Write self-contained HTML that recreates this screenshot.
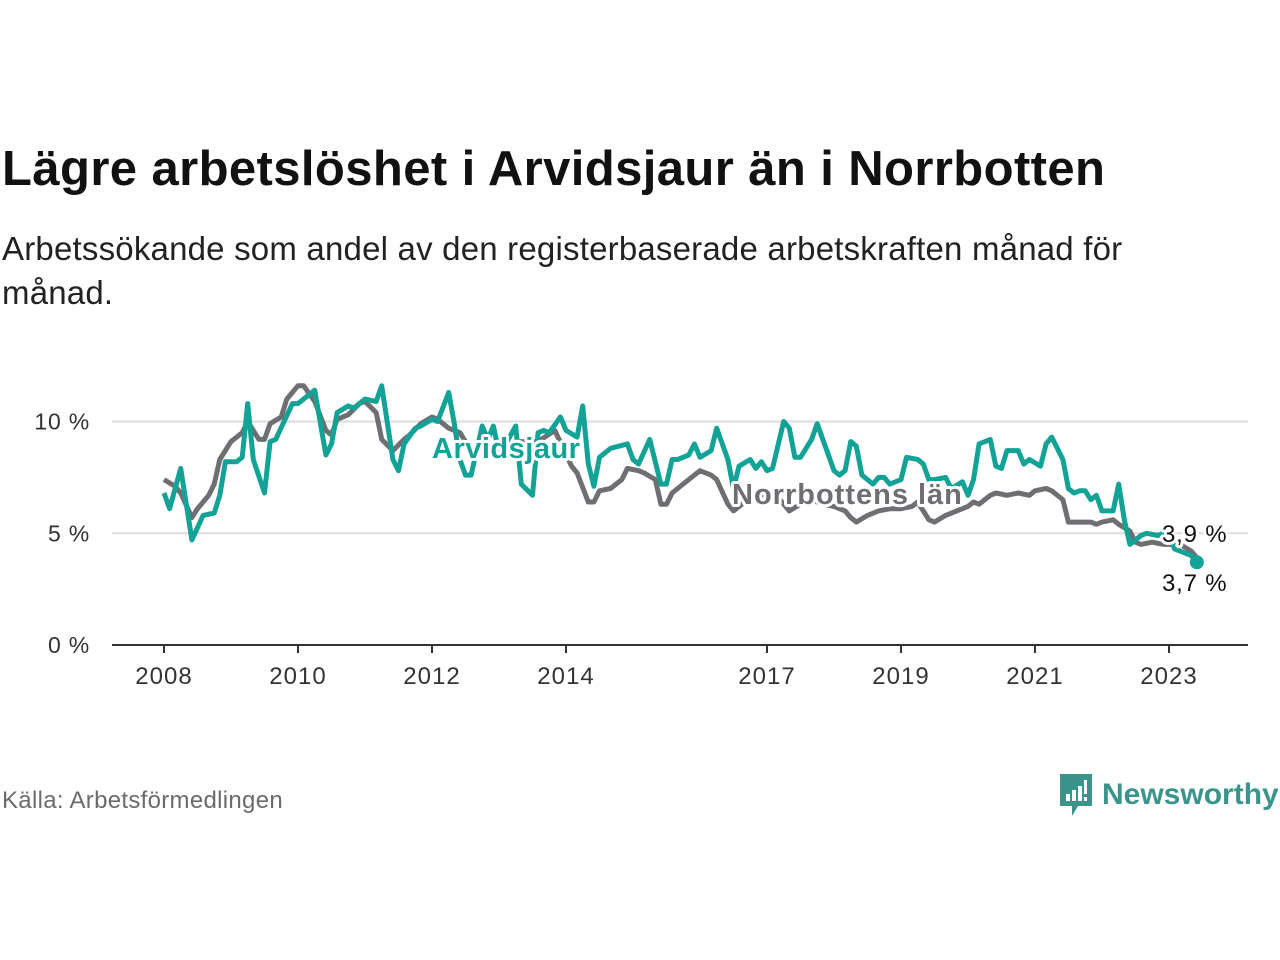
<!DOCTYPE html>
<html><head><meta charset="utf-8"><style>
body{margin:0;background:#fff;width:1280px;height:960px;overflow:hidden;font-family:"Liberation Sans",sans-serif}
#title{position:absolute;left:2px;top:141px;font-size:49px;font-weight:bold;color:#111;margin:0;letter-spacing:0.4px}
#sub{position:absolute;left:2px;top:227px;font-size:33px;line-height:44px;color:#222;width:1180px;letter-spacing:0.2px}
#src{position:absolute;left:2px;top:787px;font-size:24px;color:#6b6b6b;letter-spacing:0.3px}
#logo{position:absolute;left:1058px;top:772px;display:flex;align-items:center}
#logo span{font-size:30px;color:#3a948c;font-weight:bold;margin-left:8px}
</style></head><body>
<h1 id="title">Lägre arbetslöshet i Arvidsjaur än i Norrbotten</h1>
<div id="sub">Arbetssökande som andel av den registerbaserade arbetskraften månad för månad.</div>
<svg id="chart" width="1280" height="960" style="position:absolute;left:0;top:0"></svg>
<div id="src">Källa: Arbetsförmedlingen</div>
<div id="logo">
<svg width="36" height="46" viewBox="0 0 36 46"><path d="M2 2h32v32H20l-6 10v-10H2z" fill="#3a948c"/><rect x="8" y="22" width="4" height="7" fill="#fff"/><rect x="14" y="18" width="4" height="11" fill="#fff"/><rect x="20" y="14" width="4" height="15" fill="#fff"/><rect x="26" y="8" width="3" height="14" fill="#fff"/><rect x="26" y="25" width="3" height="4" fill="#fff"/></svg>
<span>Newsworthy</span></div>
<script>
const yTicks=[0,5,10];
const yTickLabels=["0 %","5 %","10 %"];
const xTickYears=[2008,2010,2012,2014,2017,2019,2021,2023];
const arvMonths=[0,1,3,5,7,9,10,11,13,14,15,16,18,19,20,23,24,27,29,30,31,33,34,36,38,39,41,42,43,45,46,48,49,51,52,53,54,55,57,58,59,60,61,63,64,66,67,68,69,71,72,74,75,76,77,78,80,83,84,85,87,89,90,91,92,94,95,96,98,99,101,102,103,105,106,107,108,109,111,112,113,114,116,117,118,120,121,122,123,124,125,127,128,129,130,132,133,135,136,137,138,140,141,143,144,145,146,148,149,150,151,153,154,155,157,158,159,161,162,163,164,165,166,167,168,170,171,172,173,175,176,178,179,180,181,182,184,185];
const arvValues=[6.8,6.1,7.9,4.7,5.8,5.9,6.7,8.2,8.2,8.4,10.8,8.3,6.8,9.1,9.2,10.8,10.8,11.4,8.5,9.0,10.4,10.7,10.6,11.0,10.9,11.6,8.3,7.8,9.0,9.7,9.8,10.1,10.0,11.3,9.9,8.3,7.6,7.6,9.8,9.2,9.8,8.6,8.9,9.8,7.2,6.7,9.5,9.6,9.5,10.2,9.6,9.3,10.7,8.1,7.1,8.4,8.8,9.0,8.3,8.1,9.2,7.2,7.2,8.3,8.3,8.5,9.0,8.4,8.7,9.7,8.3,7.0,8.0,8.3,7.9,8.2,7.8,7.9,10.0,9.7,8.4,8.4,9.2,9.9,9.2,7.8,7.6,7.8,9.1,8.9,7.6,7.2,7.5,7.5,7.2,7.4,8.4,8.3,8.1,7.4,7.4,7.5,7.0,7.3,6.7,7.4,9.0,9.2,8.0,7.9,8.7,8.7,8.1,8.3,8.0,9.0,9.3,8.3,7.0,6.8,6.9,6.9,6.5,6.7,6.0,6.0,7.2,5.6,4.5,4.9,5.0,4.9,5.0,5.0,4.3,4.2,4.0,3.7];
const norMonths=[0,2,3,5,6,8,9,10,12,14,15,17,18,19,21,22,24,25,27,29,30,31,33,35,36,38,39,41,43,44,46,48,49,51,53,55,57,58,60,62,64,67,70,73,74,76,77,78,80,82,83,85,86,88,89,90,91,92,94,95,96,98,99,101,102,104,106,108,110,112,114,116,118,120,122,123,124,126,128,130,132,134,135,137,138,140,142,144,145,146,148,149,151,153,155,156,158,159,161,162,164,166,167,168,170,171,173,174,175,177,179,180,182,184,185];
const norValues=[7.4,7.1,6.8,5.7,6.1,6.7,7.2,8.3,9.1,9.5,10.0,9.2,9.2,9.9,10.2,11.0,11.6,11.6,10.9,9.6,9.4,10.1,10.3,10.8,10.9,10.4,9.2,8.7,9.2,9.4,9.9,10.2,10.1,9.7,9.5,8.7,8.7,8.7,8.9,8.9,9.1,9.1,9.6,8.0,7.7,6.4,6.4,6.9,7.0,7.4,7.9,7.8,7.7,7.4,6.3,6.3,6.8,7.0,7.4,7.6,7.8,7.6,7.4,6.3,6.0,6.4,6.6,6.8,6.6,6.0,6.3,6.5,6.3,6.2,6.0,5.7,5.5,5.8,6.0,6.1,6.1,6.2,6.4,5.6,5.5,5.8,6.0,6.2,6.4,6.3,6.7,6.8,6.7,6.8,6.7,6.9,7.0,6.9,6.5,5.5,5.5,5.5,5.4,5.5,5.6,5.4,5.1,4.6,4.5,4.6,4.5,4.5,4.5,4.2,3.9];
const endLabels=["3,9 %","3,7 %"];

const NS="http://www.w3.org/2000/svg";
const svg=document.getElementById('chart');
const X0=112,X1=1248,Y0=645;
const xm=m=>164+m*5.583;
const xy=y=>164+(y-2008)*67;
const ys=v=>Y0-v*22.35;
function mk(t,a){const e=document.createElementNS(NS,t);for(const k in a)e.setAttribute(k,a[k]);svg.appendChild(e);return e;}
yTicks.forEach((v,i)=>{
  if(v>0){const g=mk('line',{x1:X0,x2:X1,y1:ys(v),y2:ys(v),stroke:'#dcdcdc','stroke-width':2});
  
  }
  const t=mk('text',{x:90,y:ys(v)+8,'text-anchor':'end','font-size':23,'letter-spacing':0.8,fill:'#333','font-family':'Liberation Sans, sans-serif'});
  t.textContent=yTickLabels[i];
  
  
});
const ax=mk('line',{x1:X0,x2:X1,y1:Y0,y2:Y0,stroke:'#333','stroke-width':2});


xTickYears.forEach(y=>{
  const tk=mk('line',{x1:xy(y),x2:xy(y),y1:Y0,y2:Y0+8,stroke:'#333','stroke-width':2});
  
  
  const t=mk('text',{x:xy(y),y:Y0+39,'text-anchor':'middle','font-size':24,'letter-spacing':1,fill:'#333','font-family':'Liberation Sans, sans-serif'});
  t.textContent=y;
  
  
});
function line(ms,vs,col,name){
  const d=ms.map((m,i)=>(i?'L':'M')+xm(m).toFixed(1)+','+ys(vs[i]).toFixed(1)).join('');
  const p=mk('path',{d:d,fill:'none',stroke:col,'stroke-width':5,'stroke-linejoin':'round'});
  
  
}
line(norMonths,norValues,'#6f6e73','norrbotten-line');
line(arvMonths,arvValues,'#12a296','arvidsjaur-line');
function lab(x,y,txt,col,name,bold,size,ls){
  const t=mk('text',{x:x,y:y,'font-size':size,'letter-spacing':ls,'font-weight':bold?'bold':'normal',fill:col,stroke:'#fff','stroke-width':6,'paint-order':'stroke','stroke-linejoin':'round','font-family':'Liberation Sans, sans-serif'});
  t.textContent=txt;
  
  
}
lab(432,458,'Arvidsjaur','#12a296','arvidsjaur-label',true,29,0.5);
lab(732,504,'Norrbottens län','#6f6e73','norrbotten-label',true,29,1);
const lastA=arvMonths.length-1;
const dot=mk('circle',{cx:xm(arvMonths[lastA]),cy:ys(arvValues[lastA]),r:7,fill:'#12a296'});


lab(1162,542,endLabels[0],'#111','norrbotten-end-value',false,24,0.8);
lab(1162,591,endLabels[1],'#111','arvidsjaur-end-value',false,24,0.8);
</script>
</body></html>
